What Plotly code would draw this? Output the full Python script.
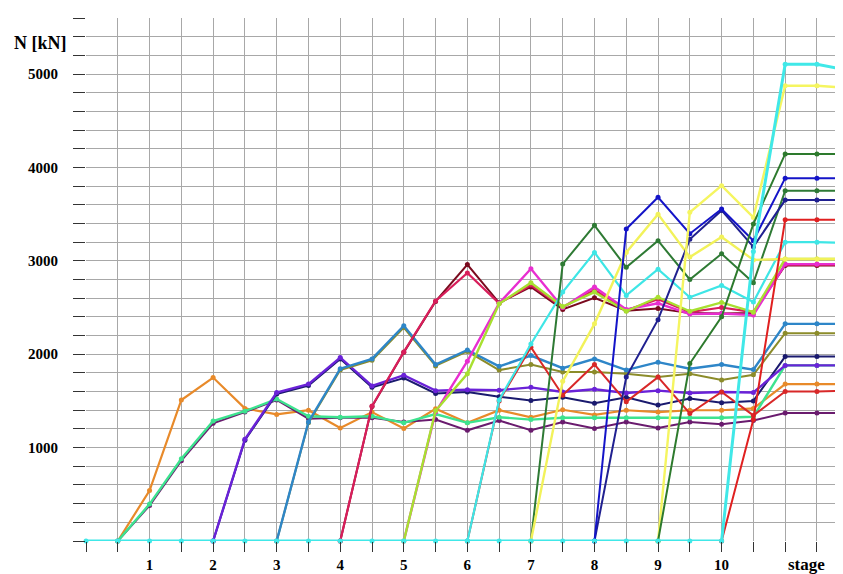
import plotly.graph_objects as go

# stage positions (half steps)
stages = [i * 0.5 for i in range(25)]  # 0 .. 12

N = None
orange      = [N, 0, 540, 1510, 1750, 1420, 1355, 1400, 1210, 1380, 1205, 1415, 1265, 1400, 1325, 1405, 1350, 1400, 1380, 1400, 1400, 1420, 1680, 1680, 1680]
springgreen = [N, 0, 395, 880, 1285, 1390, 1520, 1335, 1325, 1335, 1265, 1360, 1265, 1325, 1300, 1320, 1320, 1320, 1320, 1320, 1320, 1330, 1880, 1880, 1880]
darkpurple  = [N, 0, 380, 860, 1260, 1380, 1510, 1310, 1320, 1320, 1275, 1300, 1185, 1290, 1185, 1275, 1205, 1275, 1210, 1275, 1250, 1290, 1370, 1370, 1370]
violet      = [N, N, N, N, 0, 1090, 1590, 1680, 1965, 1660, 1775, 1610, 1620, 1615, 1645, 1595, 1625, 1585, 1610, 1585, 1595, 1590, 1880, 1880, 1880]
navy        = [N, N, N, N, 0, 1080, 1575, 1665, 1950, 1645, 1745, 1580, 1595, 1545, 1505, 1540, 1475, 1540, 1455, 1525, 1480, 1500, 1975, 1975, 1975]
steelblue   = [N, N, N, N, N, N, 0, 1275, 1845, 1950, 2305, 1890, 2045, 1870, 1985, 1850, 1950, 1830, 1915, 1845, 1890, 1835, 2325, 2325, 2325]
olive       = [N, N, N, N, N, N, 0, 1265, 1830, 1935, 2285, 1875, 2030, 1830, 1890, 1810, 1810, 1790, 1755, 1790, 1725, 1780, 2225, 2225, 2225]
crimson     = [N, N, N, N, N, N, N, N, 0, 1445, 2025, 2570, 2870, 2545, 2740, 2500, 2690, 2470, 2590, 2450, 2500, 2450, 2960, 2960, 2960]
maroon      = [N, N, N, N, N, N, N, N, 0, 1440, 2020, 2565, 2960, 2550, 2720, 2480, 2605, 2465, 2490, 2440, 2435, 2440, 2950, 2950, 2950]
magenta     = [N, N, N, N, N, N, N, N, N, N, 0, 1380, 1925, 2545, 2915, 2500, 2720, 2480, 2545, 2430, 2435, 2420, 2965, 2965, 2965]
yellowgreen = [N, N, N, N, N, N, N, N, N, N, 0, 1395, 1790, 2540, 2765, 2510, 2665, 2460, 2610, 2460, 2555, 2450, 3020, 3020, 3020]
red1        = [N, N, N, N, N, N, N, N, N, N, N, N, 0, 1500, 2075, 1560, 1890, 1490, 1755, 1365, 1595, 1345, 1600, 1600, 1610]
lightcyan   = [N, N, N, N, N, N, N, N, N, N, N, N, 0, 1510, 2110, 2665, 3090, 2630, 2910, 2610, 2735, 2560, 3200, 3200, 3190]
darkgreen1  = [N, N, N, N, N, N, N, N, N, N, N, N, N, N, 0, 2965, 3380, 2930, 3215, 2800, 3075, 2765, 3750, 3750, 3750]
yellow1     = [N, N, N, N, N, N, N, N, N, N, N, N, N, N, 0, 1710, 2325, 3090, 3500, 3040, 3255, 3010, 3020, 3020, 3020]
blue1       = [N, N, N, N, N, N, N, N, N, N, N, N, N, N, N, N, 0, 3340, 3680, 3290, 3555, 3215, 3885, 3885, 3885]
blue2       = [N, N, N, N, N, N, N, N, N, N, N, N, N, N, N, N, 0, 1755, 2370, 3230, 3540, 3150, 3650, 3650, 3650]
yellow2     = [N, N, N, N, N, N, N, N, N, N, N, N, N, N, N, N, N, N, 0, 3520, 3805, 3465, 4875, 4875, 4850]
darkgreen2  = [N, N, N, N, N, N, N, N, N, N, N, N, N, N, N, N, N, N, 0, 1900, 2400, 3395, 4145, 4145, 4145]
red2        = [N, N, N, N, N, N, N, N, N, N, N, N, N, N, N, N, N, N, N, N, 0, 1300, 3440, 3440, 3440]
cyan        = [0, 0, 0, 0, 0, 0, 0, 0, 0, 0, 0, 0, 0, 0, 0, 0, 0, 0, 0, 0, 0, 3100, 5105, 5105, 5040]

series = [
    (orange, "#E88A2A", 2.2),
    (darkpurple, "#6A1B6E", 2.0),
    (springgreen, "#3DE38F", 2.4),
    (navy, "#1A1A6E", 2.0),
    (violet, "#6A22D8", 2.4),
    (olive, "#8C8C2A", 2.0),
    (steelblue, "#2E86C8", 2.4),
    (maroon, "#7A0A1E", 2.0),
    (crimson, "#D81E5B", 2.2),
    (magenta, "#E82ED0", 2.4),
    (yellowgreen, "#A8E030", 2.4),
    (red1, "#D82828", 2.0),
    (lightcyan, "#3EE6E6", 2.2),
    (darkgreen1, "#2E7A34", 2.0),
    (yellow1, "#F2F25A", 2.4),
    (blue2, "#202090", 2.0),
    (blue1, "#1414C8", 2.0),
    (yellow2, "#F5F560", 2.4),
    (darkgreen2, "#2D7A2D", 2.0),
    (red2, "#E02020", 2.0),
    (cyan, "#40E8E8", 3.0),
]

fig = go.Figure()
for vals, col, w in series:
    fig.add_trace(go.Scatter(
        x=stages, y=vals, mode="lines+markers",
        line=dict(color=col, width=w),
        marker=dict(color=col, size=5),
        connectgaps=False, cliponaxis=False, showlegend=False,
        hoverinfo="skip",
    ))

x_ticks = [i * 0.5 for i in range(24)]
x_text = [str(int(v)) if (v == int(v) and 1 <= v <= 10) else "" for v in x_ticks]
y_ticks = list(range(0, 5601, 200))
y_text = [str(v) if (v % 1000 == 0 and v > 0) else "" for v in y_ticks]

font_fam = "Liberation Serif, Times New Roman, serif"

# page body has an 8px default margin: figure is sized/offset to compensate
W, H = 835, 566
ML, MT, MB = 78, 10, 33
PW = W - ML
PH = H - MT - MB

fig.update_layout(
    width=W, height=H,
    margin=dict(l=ML, r=0, t=MT, b=MB, autoexpand=False),
    plot_bgcolor="white", paper_bgcolor="white",
    showlegend=False,
    xaxis=dict(
        range=[0, PW / 63.56], tickmode="array", tickvals=x_ticks, ticktext=x_text,
        ticks="outside", ticklen=10, tickcolor="#333", tickwidth=1,
        showgrid=True, gridcolor="#A8A8A8", gridwidth=1,
        zeroline=False, showline=False,
        tickfont=dict(family=font_fam, size=15, color="black", weight="bold"),
    ),
    yaxis=dict(
        range=[0, 5600], tickmode="array", tickvals=y_ticks, ticktext=y_text,
        ticks="outside", ticklen=12, tickcolor="#333", tickwidth=1,
        ticklabelstandoff=12,
        showgrid=True, gridcolor="#A8A8A8", gridwidth=1,
        zeroline=False, showline=False,
        tickfont=dict(family=font_fam, size=15, color="black", weight="bold"),
    ),
    annotations=[
        dict(text="N [kN]", xref="paper", yref="paper", x=(40 - 86) / PW, y=(541 - 43) / PH,
             showarrow=False, xanchor="center", yanchor="middle",
             font=dict(family=font_fam, size=18, color="black", weight="bold")),
        dict(text="stage", xref="paper", yref="paper", x=(806 - 86) / PW, y=-(564 - 541) / PH,
             showarrow=False, xanchor="center", yanchor="middle",
             font=dict(family=font_fam, size=17, color="black", weight="bold")),
    ],
)

fig.write_html("out.html")
